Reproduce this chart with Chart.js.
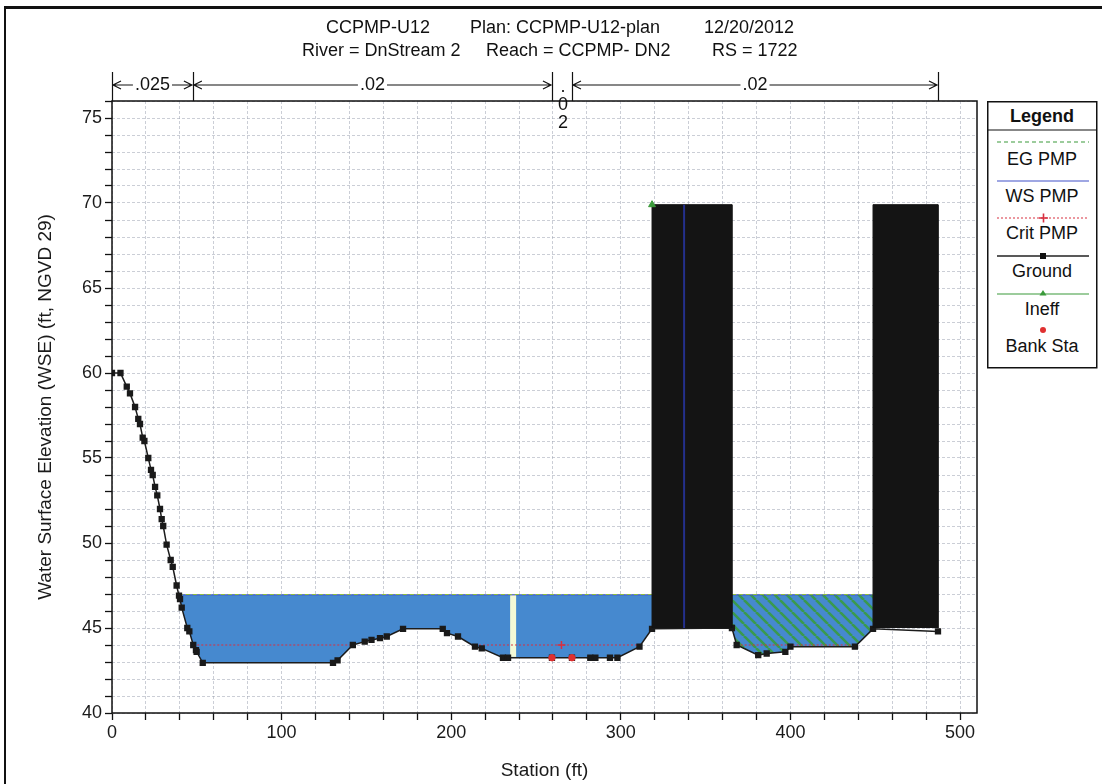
<!DOCTYPE html>
<html>
<head>
<meta charset="utf-8">
<script src="https://cdn.jsdelivr.net/npm/chart.js@4.4.0/dist/chart.umd.min.js"></script>
<style>
    html, body { margin: 0; padding: 0; background: #fff; }
    #wrap { position: relative; width: 1102px; height: 784px; overflow: hidden; }
    #frame { position: absolute; left: 4px; top: 6px; width: 1200px; height: 900px; border-top: 3px solid #111; border-left: 2px solid #111; }
    #chart { position: absolute; left: 0; top: 0; }
    #legend { position: absolute; left: 987px; top: 101px; }
</style>
</head>
<body>
<div id="wrap">
    <div id="frame"></div>
    <canvas id="chart" width="1102" height="784"></canvas>
    <svg id="legend" width="111" height="268" font-family="Liberation Sans, Arial, sans-serif" font-size="18" fill="#111">
        <rect x="0.75" y="0.75" width="109" height="266" fill="#fff" stroke="#111" stroke-width="1.5"/>
        <text x="55" y="21" text-anchor="middle" font-weight="bold">Legend</text>
        <line x1="1" y1="29" x2="110" y2="29" stroke="#111" stroke-width="1.2"/>
        <line x1="10" y1="41" x2="102" y2="41" stroke="#3a9a3a" stroke-width="1.2" stroke-dasharray="4 3"/>
        <text x="55" y="64" text-anchor="middle">EG PMP</text>
        <line x1="10" y1="80" x2="102" y2="80" stroke="#4050c8" stroke-width="1.2"/>
        <text x="55" y="101" text-anchor="middle">WS PMP</text>
        <line x1="10" y1="117" x2="102" y2="117" stroke="#d83040" stroke-width="1.2" stroke-dasharray="2 2"/>
        <path d="M52 117 h9 M56.5 112.5 v9" stroke="#d83040" stroke-width="1.6"/>
        <text x="55" y="138" text-anchor="middle">Crit PMP</text>
        <line x1="10" y1="155" x2="102" y2="155" stroke="#222" stroke-width="1.4"/>
        <rect x="53" y="152" width="6" height="6" fill="#111"/>
        <text x="55" y="176" text-anchor="middle">Ground</text>
        <line x1="10" y1="193" x2="102" y2="193" stroke="#3a9a3a" stroke-width="1.2"/>
        <path d="M56 189 l3.5 5.5 h-7 z" fill="#3a9a3a"/>
        <text x="55" y="214" text-anchor="middle">Ineff</text>
        <circle cx="56" cy="229" r="3" fill="#e03030"/>
        <text x="55" y="251" text-anchor="middle">Bank Sta</text>
    </svg>
</div>
<script>
const FONT = '"Liberation Sans", Arial, sans-serif';

// ground profile (station ft, elevation ft)
const groundStation = [0, 5, 8.7, 10.6, 13.6, 15.5, 16.5, 18.1, 19.1, 21.4, 23.0, 24.0, 25.4, 26.7, 28.3, 29.3,
    30.2, 32.2, 34.6, 35.8, 38.1, 39.5, 40.1, 41.1, 44.4, 45.6, 47.9, 49.5, 49.9, 53.5, 130.3, 133, 142, 149,
    153, 158, 162, 171.6, 195, 197.5, 204, 214, 218, 230.5, 233.5, 259.4, 271.2, 282, 285, 293.6, 298, 311,
    318.4, 365.5, 368.3, 381, 386, 397, 400, 438, 448.7, 487];
const groundElev = [60, 60, 59.2, 58.8, 58.0, 57.3, 57.0, 56.2, 56.0, 55.0, 54.3, 54.0, 53.3, 52.8, 52.0, 51.4,
    51.0, 49.9, 49.0, 48.6, 47.5, 46.9, 46.7, 46.2, 45.0, 44.8, 44.0, 43.7, 43.6, 42.95, 42.95, 43.1, 44.0, 44.2,
    44.3, 44.4, 44.5, 44.95, 44.95, 44.7, 44.5, 43.9, 43.8, 43.25, 43.25, 43.25, 43.25, 43.25, 43.25, 43.25, 43.25, 43.9,
    44.95, 45.0, 44.0, 43.4, 43.5, 43.6, 43.9, 43.9, 44.95, 44.8];

const wsElev = 46.95;
const egElev = 46.97;
const effectiveReach = [39.4, 318.4];
const ineffReach = [365.5, 448.7];

const critSegments = [[47.9, 142.5], [214, 311], [368.3, 438]];
const critElev = 44.0;
const critMarkStation = [265];

const blockStart = [318.4, 448.7];
const blockEnd = [365.5, 487];
const blockBottom = 45.0;
const blockTop = 69.9;
const blockLineStation = 337.3;

const bankStation = [259.4, 271.2];
const bankElev = [43.25, 43.25];
const ineffStation = [318.4];
const ineffElev = [69.9];

const glareStation = 236.5;

const nBreaks = [0, 47.7, 259.4, 271.2, 487];
const nValues = ['.025', '.02', '.02', '.02'];

const titleLine1 = ['CCPMP-U12', 'Plan: CCPMP-U12-plan', '12/20/2012'];
const titleLine2 = ['River = DnStream 2', 'Reach = CCPMP- DN2', 'RS = 1722'];

const xLabels = [0, 100, 200, 300, 400, 500];
const yLabels = [40, 45, 50, 55, 60, 65, 70, 75];
const xMin = 0, xMax = 510, xMinor = 20;
const yMin = 40, yMax = 76, yMinor = 1;

const waterBlue = '#4689cf';

function pocket(from, to, top) {
    const pts = [{x: from, y: top}, {x: to, y: top}];
    for (let i = groundStation.length - 1; i >= 0; i--) {
        const s = groundStation[i];
        if (s >= from && s <= to) pts.push({x: s, y: groundElev[i]});
    }
    return pts;
}

function hatchPattern() {
    const s = 12;
    const c = document.createElement('canvas');
    c.width = s; c.height = s;
    const p = c.getContext('2d');
    p.fillStyle = waterBlue;
    p.fillRect(0, 0, s, s);
    p.strokeStyle = '#3a9a4e';
    p.lineWidth = 2.6;
    p.beginPath();
    for (const o of [-s, 0, s]) {
        p.moveTo(o, 0);
        p.lineTo(o + s, s);
    }
    p.stroke();
    return p.createPattern(c, 'repeat');
}

const groundPoints = groundStation.map((s, i) => ({x: s, y: groundElev[i]}));

const critPoints = [];
critSegments.forEach(([a, b]) => {
    critPoints.push({x: a, y: critElev}, {x: b, y: critElev}, {x: b + 1, y: null});
});

const blockSets = blockStart.map((a, i) => ({
    data: [{x: a, y: blockBottom}, {x: a, y: blockTop}, {x: blockEnd[i], y: blockTop}, {x: blockEnd[i], y: blockBottom}],
    showLine: true, fill: 'shape', backgroundColor: '#141414', borderColor: '#141414', borderWidth: 1,
    pointRadius: 0, order: 3
}));

function surfaceLine(elev) {
    return [
        {x: effectiveReach[0], y: elev}, {x: effectiveReach[1], y: elev}, {x: effectiveReach[1] + 1, y: null},
        {x: ineffReach[0], y: elev}, {x: ineffReach[1], y: elev}
    ];
}

const frameAndHeader = {
    id: 'frameAndHeader',
    afterDraw(chart) {
        const {ctx, chartArea: area, scales: {x}} = chart;
        ctx.save();
        ctx.strokeStyle = '#111';
        ctx.lineWidth = 1.5;
        ctx.strokeRect(area.left, area.top, area.right - area.left, area.bottom - area.top);

        ctx.fillStyle = '#111';
        ctx.font = '18px ' + FONT;
        ctx.textBaseline = 'middle';
        ctx.textAlign = 'left';
        [326, 470, 704].forEach((px, i) => ctx.fillText(titleLine1[i], px, 28));
        [302, 486, 712].forEach((px, i) => ctx.fillText(titleLine2[i], px, 51));

        // Manning's n bar
        const yBar = 85;
        ctx.lineWidth = 1.2;
        ctx.beginPath();
        nBreaks.forEach(s => {
            const px = Math.round(x.getPixelForValue(s)) + 0.5;
            ctx.moveTo(px, 72);
            ctx.lineTo(px, area.top);
        });
        ctx.stroke();
        ctx.textAlign = 'center';
        for (let i = 0; i < nValues.length; i++) {
            const a = x.getPixelForValue(nBreaks[i]);
            const b = x.getPixelForValue(nBreaks[i + 1]);
            const mid = (a + b) / 2;
            if (b - a > 40) {
                const w = ctx.measureText(nValues[i]).width;
                ctx.beginPath();
                ctx.moveTo(a + 1, yBar); ctx.lineTo(mid - w / 2 - 2, yBar);
                ctx.moveTo(mid + w / 2 + 2, yBar); ctx.lineTo(b - 1, yBar);
                ctx.moveTo(a + 9, yBar - 4); ctx.lineTo(a + 1, yBar); ctx.lineTo(a + 9, yBar + 4);
                ctx.moveTo(b - 9, yBar - 4); ctx.lineTo(b - 1, yBar); ctx.lineTo(b - 9, yBar + 4);
                ctx.stroke();
                ctx.fillText(nValues[i], mid, yBar);
            } else {
                nValues[i].split('').forEach((ch, k) => ctx.fillText(ch, mid + 1, 87 + k * 18));
            }
        }
        ctx.restore();
    }
};

const ctx = document.getElementById('chart').getContext('2d');
Chart.defaults.font.family = FONT;

new Chart(ctx, {
    type: 'scatter',
    data: {
        datasets: [
            { label: 'Bank Sta', data: bankStation.map((s, i) => ({x: s, y: bankElev[i]})),
              pointStyle: 'circle', pointRadius: 3.2, backgroundColor: '#e03030', borderColor: '#e03030', order: 0 },
            { label: 'Ineff', data: ineffStation.map((s, i) => ({x: s, y: ineffElev[i]})),
              pointStyle: 'triangle', pointRadius: 4, backgroundColor: '#3a9a3a', borderColor: '#3a9a3a', order: 1 },
            { label: 'block line', data: [{x: blockLineStation, y: blockBottom}, {x: blockLineStation, y: blockTop}],
              showLine: true, borderColor: '#24308c', borderWidth: 2, pointRadius: 0, order: 2 },
            ...blockSets,
            { label: 'Ground', data: groundPoints, showLine: true, borderColor: '#1c1c1c', borderWidth: 1.5,
              pointStyle: 'rect', pointRadius: 3.4, backgroundColor: '#1a1a1a', pointBorderColor: '#1a1a1a', order: 4 },
            { label: 'Crit mark', data: critMarkStation.map(s => ({x: s, y: critElev})),
              pointStyle: 'cross', pointRadius: 4, borderColor: '#d83040', borderWidth: 1.5, order: 5 },
            { label: 'Crit PMP', data: critPoints, showLine: true, borderColor: '#d83040', borderWidth: 1.2,
              borderDash: [2, 2], pointRadius: 0, spanGaps: false, order: 6 },
            { label: 'EG PMP', data: surfaceLine(egElev), showLine: true, borderColor: '#8fbf3a', borderWidth: 1.2,
              borderDash: [4, 3], pointRadius: 0, spanGaps: false, order: 7 },
            { label: 'WS PMP', data: surfaceLine(wsElev), showLine: true, borderColor: '#4050c8', borderWidth: 1,
              pointRadius: 0, spanGaps: false, order: 8 },
            { label: 'glare', data: [{x: glareStation, y: 43.3}, {x: glareStation, y: wsElev}], showLine: true,
              borderColor: '#f3f9d6', borderWidth: 6, pointRadius: 0, order: 9 },
            { label: 'ineff water', data: pocket(ineffReach[0], ineffReach[1], wsElev), showLine: true, fill: 'shape',
              backgroundColor: hatchPattern(), borderColor: 'rgba(0,0,0,0)', borderWidth: 0, pointRadius: 0, order: 10 },
            { label: 'water', data: pocket(effectiveReach[0], effectiveReach[1], wsElev), showLine: true, fill: 'shape',
              backgroundColor: waterBlue, borderColor: 'rgba(0,0,0,0)', borderWidth: 0, pointRadius: 0, order: 11 }
        ]
    },
    options: {
        responsive: false,
        animation: false,
        layout: { padding: { left: 30, top: 101, right: 125, bottom: 0 } },
        plugins: { legend: { display: false }, tooltip: { enabled: false } },
        scales: {
            x: {
                type: 'linear', min: xMin, max: xMax,
                afterFit(scale) { scale.height = 71; },
                afterBuildTicks(scale) {
                    const t = [];
                    for (let v = xMin; v <= xLabels[xLabels.length - 1]; v += xMinor) t.push({value: v});
                    scale.ticks = t;
                },
                ticks: { autoSkip: false, maxRotation: 0, padding: 2, color: '#1a1a1a', font: { size: 18 },
                         callback: v => xLabels.includes(v) ? String(v) : '' },
                grid: { color: 'rgba(160,165,180,0.55)', lineWidth: 1, tickColor: '#111', tickLength: 7, tickWidth: 1.3 },
                border: { display: false, dash: [3, 2] },
                title: { display: true, text: 'Station (ft)', color: '#1a1a1a', font: { size: 19 }, padding: { top: 2, bottom: 2 } }
            },
            y: {
                type: 'linear', min: yMin, max: yMax,
                afterFit(scale) { scale.width = 82; },
                afterBuildTicks(scale) {
                    const t = [];
                    for (let v = yMin; v <= yMax; v += yMinor) t.push({value: v});
                    scale.ticks = t;
                },
                ticks: { autoSkip: false, padding: 3, color: '#1a1a1a', font: { size: 18 },
                         callback: v => yLabels.includes(v) ? String(v) : '' },
                grid: { color: 'rgba(160,165,180,0.55)', lineWidth: 1, tickColor: '#111', tickLength: 7, tickWidth: 1.3 },
                border: { display: false, dash: [3, 2] },
                title: { display: true, text: 'Water Surface Elevation (WSE) (ft, NGVD 29)', color: '#1a1a1a',
                         font: { size: 19 }, padding: { top: 4, bottom: 4 } }
            }
        }
    },
    plugins: [frameAndHeader]
});
</script>
</body>
</html>
